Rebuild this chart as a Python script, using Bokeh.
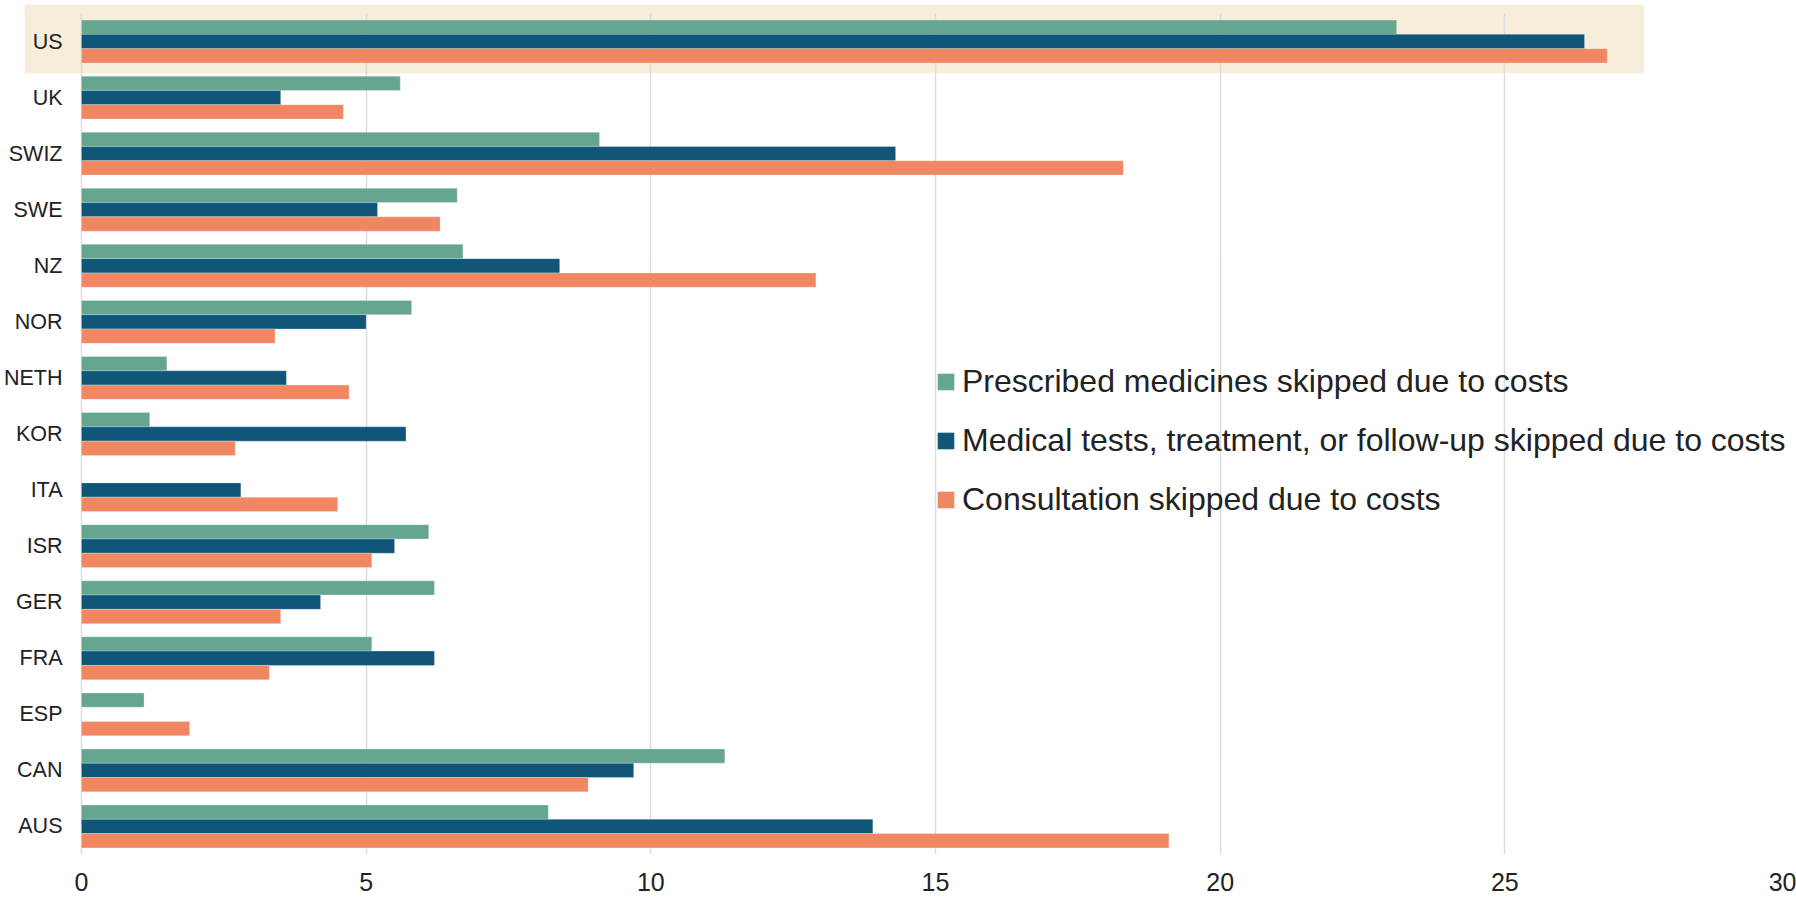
from bokeh.plotting import figure
from bokeh.models import (ColumnDataSource, FixedTicker, Legend, LegendItem,
                          BoxAnnotation, Range1d)
from bokeh.transform import dodge
from bokeh.embed import file_html
from bokeh.resources import INLINE

nan = float("nan")

# ---- data (top to bottom as in the chart) ----
countries = ["US", "UK", "SWIZ", "SWE", "NZ", "NOR", "NETH", "KOR", "ITA",
             "ISR", "GER", "FRA", "ESP", "CAN", "AUS"]
medicines = [23.1, 5.6, 9.1, 6.6, 6.7, 5.8, 1.5, 1.2, nan, 6.1, 6.2, 5.1, 1.1, 11.3, 8.2]
tests = [26.4, 3.5, 14.3, 5.2, 8.4, 5.0, 3.6, 5.7, 2.8, 5.5, 4.2, 6.2, nan, 9.7, 13.9]
consultation = [26.8, 4.6, 18.3, 6.3, 12.9, 3.4, 4.7, 2.7, 4.5, 5.1, 3.5, 3.3, 1.9, 8.9, 19.1]
series_labels = ["Prescribed medicines skipped due to costs",
                 "Medical tests, treatment, or follow-up skipped due to costs",
                 "Consultation skipped due to costs"]
x_ticks = [0, 5, 10, 15, 20, 25, 30]
highlight = "US"

# ---- style ----
FONT = "Liberation Sans, Arial, Helvetica, sans-serif"
TEXT = "#222222"
COLORS = ["#66a690", "#115578", "#f08662"]
BAND = "#f6edda"
BAR_H = 0.255
TOP_PAD = 0.16

n = len(countries)
ypos = [n - 1 - i for i in range(n)]          # first country on top
source = ColumnDataSource(dict(y=ypos, country=countries, med=medicines,
                               tests=tests, cons=consultation))

p = figure(width=1796, height=900,
           x_range=Range1d(-1.0, x_ticks[-1]),
           y_range=Range1d(-0.5, n - 0.5 + TOP_PAD),
           output_backend="svg", toolbar_location=None,
           min_border_left=23, min_border_right=7,
           min_border_top=4, min_border_bottom=46)

p.background_fill_color = "white"
p.border_fill_color = "white"
p.outline_line_color = None

# highlight band behind the highlighted country
hy = ypos[countries.index(highlight)]
hi_vals = [medicines[countries.index(highlight)],
           tests[countries.index(highlight)],
           consultation[countries.index(highlight)]]
band_right = max(hi_vals) + 0.65
p.add_layout(BoxAnnotation(right=band_right, bottom=hy - 0.565,
                           fill_color=BAND, fill_alpha=1.0, line_color=None,
                           level="image"))
# strip above the first row, hiding the grid lines there (as in the original)
p.add_layout(BoxAnnotation(right=band_right, bottom=hy + 0.5,
                           fill_color=BAND, fill_alpha=1.0, line_color=None,
                           level="glyph"))
p.add_layout(BoxAnnotation(left=band_right, bottom=hy + 0.5,
                           fill_color="white", fill_alpha=1.0, line_color=None,
                           level="glyph"))

common = dict(height=BAR_H, source=source, left=0,
              line_color="white", line_alpha=0.25, line_width=1)
r1 = p.hbar(y=dodge("y", BAR_H), right="med", fill_color=COLORS[0], **common)
r2 = p.hbar(y=dodge("y", 0.0), right="tests", fill_color=COLORS[1], **common)
r3 = p.hbar(y=dodge("y", -BAR_H), right="cons", fill_color=COLORS[2], **common)

# x axis
p.xaxis.ticker = FixedTicker(ticks=x_ticks)
p.xaxis.axis_line_color = None
p.xaxis.major_tick_line_color = None
p.xaxis.minor_tick_line_color = None
p.xaxis.major_tick_out = 0
p.xaxis.major_tick_in = 0
p.xaxis.major_label_standoff = 18
p.xaxis.major_label_text_font_size = "25px"
p.xaxis.major_label_text_font = FONT
p.xaxis.major_label_text_color = TEXT

# y axis: one tick per country, labelled with its name
p.yaxis.ticker = FixedTicker(ticks=ypos)
p.yaxis.major_label_overrides = {y: c for y, c in zip(ypos, countries)}
p.yaxis.axis_line_color = None
p.yaxis.major_tick_line_color = None
p.yaxis.minor_tick_line_color = None
p.yaxis.major_tick_out = 0
p.yaxis.major_tick_in = 0
p.yaxis.major_label_standoff = -38
p.yaxis.major_label_text_font_size = "21.5px"
p.yaxis.major_label_text_font = FONT
p.yaxis.major_label_text_color = TEXT

p.ygrid.grid_line_color = None
p.xgrid.ticker = FixedTicker(ticks=x_ticks)
p.xgrid.grid_line_color = "#dcdcdc"
p.xgrid.grid_line_width = 1.5

legend = Legend(items=[LegendItem(label=series_labels[0], renderers=[r1]),
                       LegendItem(label=series_labels[1], renderers=[r2]),
                       LegendItem(label=series_labels[2], renderers=[r3])],
                location=(911, 336), padding=0, margin=0, spacing=22,
                glyph_width=21, glyph_height=21, label_standoff=6,
                label_text_font_size="32px", label_text_font=FONT,
                label_text_color=TEXT, border_line_color=None,
                background_fill_alpha=0)
p.add_layout(legend)

open("out.html", "w").write(file_html(p, INLINE))
